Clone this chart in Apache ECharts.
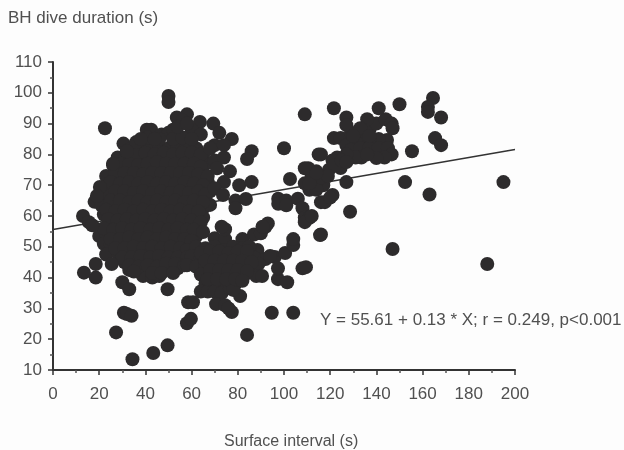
<!DOCTYPE html>
<html><head><meta charset="utf-8">
<script src="https://cdn.jsdelivr.net/npm/echarts@6/dist/echarts.min.js"></script>
<style>html,body{margin:0;padding:0;background:#fdfdfd}#c{width:624px;height:450px}</style>
</head><body><div id="c"></div>
<script>
const xAxisLabel = "Surface interval (s)";
const yAxisLabel = "BH dive duration (s)";
const equation = "Y = 55.61 + 0.13 * X; r = 0.249, p<0.001";
const regression = [[0,55.61],[200,81.61]];
const mainBlob = [
[30.5,83.5],[34,82],[38,81.5],[42,82],[46,82],[50,82],[54,82],[58,83],[62,82],[65,80],
[28,79],[31,78.5],[35,78],[39,79],[43,78],[47,79],[51,78.5],[55,79],[59,79],[63,78],[66,77],
[26,76.5],[29,75],[33,75.5],[37,75],[41,75],[45,76],[49,75],[53,75.5],[57,75],[61,75.5],[65,74],
[23,73],[27,72.5],[31,72],[35,72.5],[39,72],[43,72],[47,72.5],[51,72],[55,72],[59,72],[63,71.5],[67,71],
[25,69.5],[29,69],[33,69.5],[37,69],[41,69.5],[45,69],[49,69],[53,69.5],[57,69],[61,69],[65,68.5],[68,68],
[23,66.5],[27,66],[31,66.5],[35,66],[39,66],[43,66.5],[47,66],[51,66],[55,66.5],[59,66],[63,66],[66,65.5],
[18,64.6],[21,63.5],[25,63],[29,63.5],[33,63],[37,63],[41,63.5],[45,63],[49,63],[53,63.5],[57,63],[61,63],[65,62.5],[68,63.6],
[22,60.5],[26,60],[30,60.5],[34,60],[38,60],[42,60.5],[46,60],[50,60],[54,60.5],[58,60],[62,60],[65,59.5],
[24,57.5],[28,57],[32,57.5],[36,57],[40,57],[44,57.5],[48,57],[52,57],[56,57.5],[60,57],[63,56.5],
[20,53.5],[23,54],[27,54],[31,54.5],[35,54],[39,54],[43,54.5],[47,54],[51,54],[55,54.5],[59,54],[62,53.5],
[22,51],[25,50.5],[29,51],[33,51.5],[37,51],[41,51],[45,51.5],[49,51],[53,51],[57,50.5],
[23,47.5],[28,48],[32,48],[36,48],[40,48.5],[44,48],[48,48],[52,48],[56,47.5],
[31,45],[35,45],[39,45],[43,45.5],[47,45],[51,45],[55,45],[60,45.5],
[33,42.5],[37,42],[41,42.5],[45,42],[49,43],[54,43],[39,40.5],[43,40],[46,40.5]
];
const blobInfill = [
[32,80.5],[36,80],[40,80.5],[44,80],[48,80.5],[52,80],[56,80.5],[60,80.5],[64,80],
[30,77],[33,77],[37,76.5],[41,77],[45,77.5],[49,77],[53,77],[57,77],[61,77],[64,76],
[27,74],[31,74],[35,74],[39,73.5],[43,74],[47,74],[51,74],[55,74],[59,74],[63,73.5],[67,73],
[25,71],[29,70.5],[33,71],[37,70.5],[41,71],[45,70.5],[49,71],[53,70.5],[57,71],[61,70.5],[65,70],
[27,68],[31,68],[35,67.5],[39,68],[43,67.5],[47,68],[51,67.5],[55,68],[59,67.5],[63,68],[66,67],
[25,65],[29,65],[33,64.5],[37,65],[41,64.5],[45,65],[49,64.5],[53,65],[57,64.5],[61,65],[65,64.5],
[23,62],[27,61.5],[31,62],[35,61.5],[39,62],[43,61.5],[47,62],[51,61.5],[55,62],[59,61.5],[63,61.5],
[24,59],[28,58.5],[32,59],[36,58.5],[40,59],[44,58.5],[48,59],[52,58.5],[56,59],[60,58.5],[64,58],
[22,56],[26,55.5],[30,56],[34,55.5],[38,56],[42,55.5],[46,56],[50,55.5],[54,56],[58,55.5],[61,55.5],
[25,52.5],[29,52.5],[33,53],[37,52.5],[41,53],[45,52.5],[49,53],[53,52.5],[57,52.5],[60,52],
[27,49.5],[31,49.5],[35,50],[39,49.5],[43,50],[47,49.5],[51,50],[55,49.5],[58,49],
[30,46.5],[34,46.5],[38,47],[42,46.5],[46,47],[50,46.5],[54,46.5],[58,46.5],
[33,44],[37,43.5],[41,44],[45,43.5],[49,44.5],[53,44.5],[57,44],[35,42],[43,41.5],[47,41.5],[52,41.5]
];
const blobEdge = [
[40.6,88],[42.5,88],[41,85.5],[36,84],[47,86.5],[50,87],[46,85],[53.6,92],[58,93],[56,91],[63.6,90.5],[60,88],[64,86.5],[69.4,90],[72,87],
[77.4,85],[70,83],[74,83],[68,82],[86,81],[84,78.5],[70,78],[74,79],[71,75.5],[76.6,74.5],[74,71],[80.6,70],[86,71],[70,69],[73.6,66.8],[79,65],[83.5,65.5],[79,62.5],
[13,60],[15.5,58],[17,57],[20.3,69.4],[19,66.5],[50,99],[50,97],[22.5,88.5],[26,77],[32,81],[52,88],
[38,85],[44,85],[52,85],[56,85.5],[60,85],[54,89],[58,90]
];
const lowerCluster = [
[65,54.8],[70,52.8],[74.5,52.5],[74.5,55.7],[82,52.5],[87,54],[90,54.4],[92,56.5],[93,57.6],[88.5,49],[92,46],[96,46.7],[100.5,48],[104,50.6],[104,52.5],
[62,50],[66,49.5],[70,50],[74,49],[78,50],[82,49.5],[85,50],[60,47],[64,46.5],[68,47],[72,47],[76,46.5],[80,47],[84,47],[87,46.5],
[58,44],[62,43.5],[66,44],[70,44],[74,44],[78,44],[82,44],[85,43.5],[89,44.5],[64,41],[68,41],[72,41],[76,41],[80,41],[83,41],
[66,38],[69,38],[72,38],[75,38.5],[79,38],[64,35.5],[67,35.5],[70,35.5],[73,35],[76.6,36.5],[81,34],[78,36],[58.5,32],[60.6,32],[70.6,31.4],[74.5,31],[77.4,28.8],[76,30],
[88,40.5],[90.5,40.5],[97.4,39.5],[101.4,38.5],[97.4,43],[94,47],
[64,48],[68,48.5],[72,48.5],[76,48],[80,48.5],[84,48.5],[66,45.5],[70,45.5],[74,45.5],[78,45.5],[82,45.5],[86,45],[68,42.5],[72,42.5],[76,42.5],[80,42.5],[84,42],[67,39.5],[71,39.5],[75,39.5],[79,39.5],[82,39]
];
const upperCluster = [
[121.6,85.3],[124.5,85.3],[129,87],[137,88],[140,90],[144,91.4],[146.6,90],[147,88.5],[144.6,84.7],[141,85],[137,85],[133,85.5],[131,84],[127,83],[129,81.5],[133,82],[137,82],[141,82],[145,82],
[146.6,80],[143.5,79],[140,78.8],[133.5,79],[131,79],[136,80],[127,80],[123,79],[121,78],[124.5,75.6],[119.5,75],[122,76.5],[114,74.5],[110.5,75.5],[112,70],[117,70],[111,68.5],[114,71],[109,70.6],[114,68.5],
[127,92],[127,89.5],[136,91.4],[133,88.5],[130,86],[137,86],[125,78],[127,77.5],[116,72.5],[119,73],[112,73]
];
const midPoints = [
[109,75.5],[102.6,72],[97.5,65.6],[97.5,64],[101,65],[101,63.5],[106,65.6],[108,62.5],[109,59.5],[111,59.5],[115,80],[111,70.6],[114,74],[116,64.5],[73,56.5],[90.7,56.5],[117.7,64.5],[121,66.8],[120,66],[127,71],[128.6,61.4],[116,54],[115.6,53.8],[111,59.4],[109,58],[112,60]
];
const outliers = [
[13.4,41.6],[18.5,44.4],[18.5,40],[25.4,44.4],[30,38.5],[33,36.2],[49.6,36.2],[30.7,28.6],[32,28.2],[34,27.6],[27.3,22.2],[34.4,13.5],[43.4,15.5],[49.6,18],
[58,25.2],[59.7,26.6],[84,21.4],[94.7,28.6],[104,28.6],[108,43],[109,93],[100,82],[121.6,95],[141,95],[150,96.3],[164.5,98.3],[162.3,95.4],[162.3,93.8],[168,92],[165.4,85.3],[168,83],[155.4,81],[116,80],[195,71],[152.4,71],[163,67],[147,49.3],[188,44.4],[109.5,43.4]
];
const points = [].concat(mainBlob, blobInfill, blobEdge, lowerCluster, upperCluster, midPoints, outliers);
const txt = '#505050', font = '"Liberation Sans", Arial, sans-serif';
const chart = echarts.init(document.getElementById('c'), null, {renderer:'canvas'});
chart.setOption({
  animation:false,
  backgroundColor:'#fdfdfd',
  title:[
    {text:yAxisLabel,left:3,top:5,textStyle:{color:txt,fontFamily:font,fontSize:17,fontWeight:'normal'}},
    {text:xAxisLabel,left:219,top:429,textStyle:{color:txt,fontFamily:font,fontSize:16,fontWeight:'normal'}},
    {text:equation,left:315,top:307,textStyle:{color:txt,fontFamily:font,fontSize:17,fontWeight:'normal'}}
  ],
  grid:{left:53,right:109,top:62,bottom:80,containLabel:false},
  xAxis:{type:'value',min:0,max:200,interval:20,splitLine:{show:false},
    axisLine:{onZero:false,lineStyle:{color:'#333',width:2}},
    axisTick:{length:5,lineStyle:{color:'#333',width:1.5}},
    minorTick:{show:true,splitNumber:2,length:3,lineStyle:{color:'#555',width:1.5}},
    axisLabel:{color:txt,fontFamily:font,fontSize:17,margin:16}},
  yAxis:{type:'value',min:10,max:110,interval:10,splitLine:{show:false},
    axisLine:{onZero:false,lineStyle:{color:'#333',width:2}},
    axisTick:{length:5,lineStyle:{color:'#333',width:1.5}},
    minorTick:{show:true,splitNumber:2,length:3,lineStyle:{color:'#555',width:1.5}},
    axisLabel:{color:txt,fontFamily:font,fontSize:17,margin:11}},
  series:[
    {type:'line',data:regression,symbol:'none',z:1,lineStyle:{color:'#333',width:1.5}},
    {type:'scatter',data:points,symbol:'circle',symbolSize:14,z:2,itemStyle:{color:'#2d2b2c',opacity:1}}
  ]
});
</script></body></html>
